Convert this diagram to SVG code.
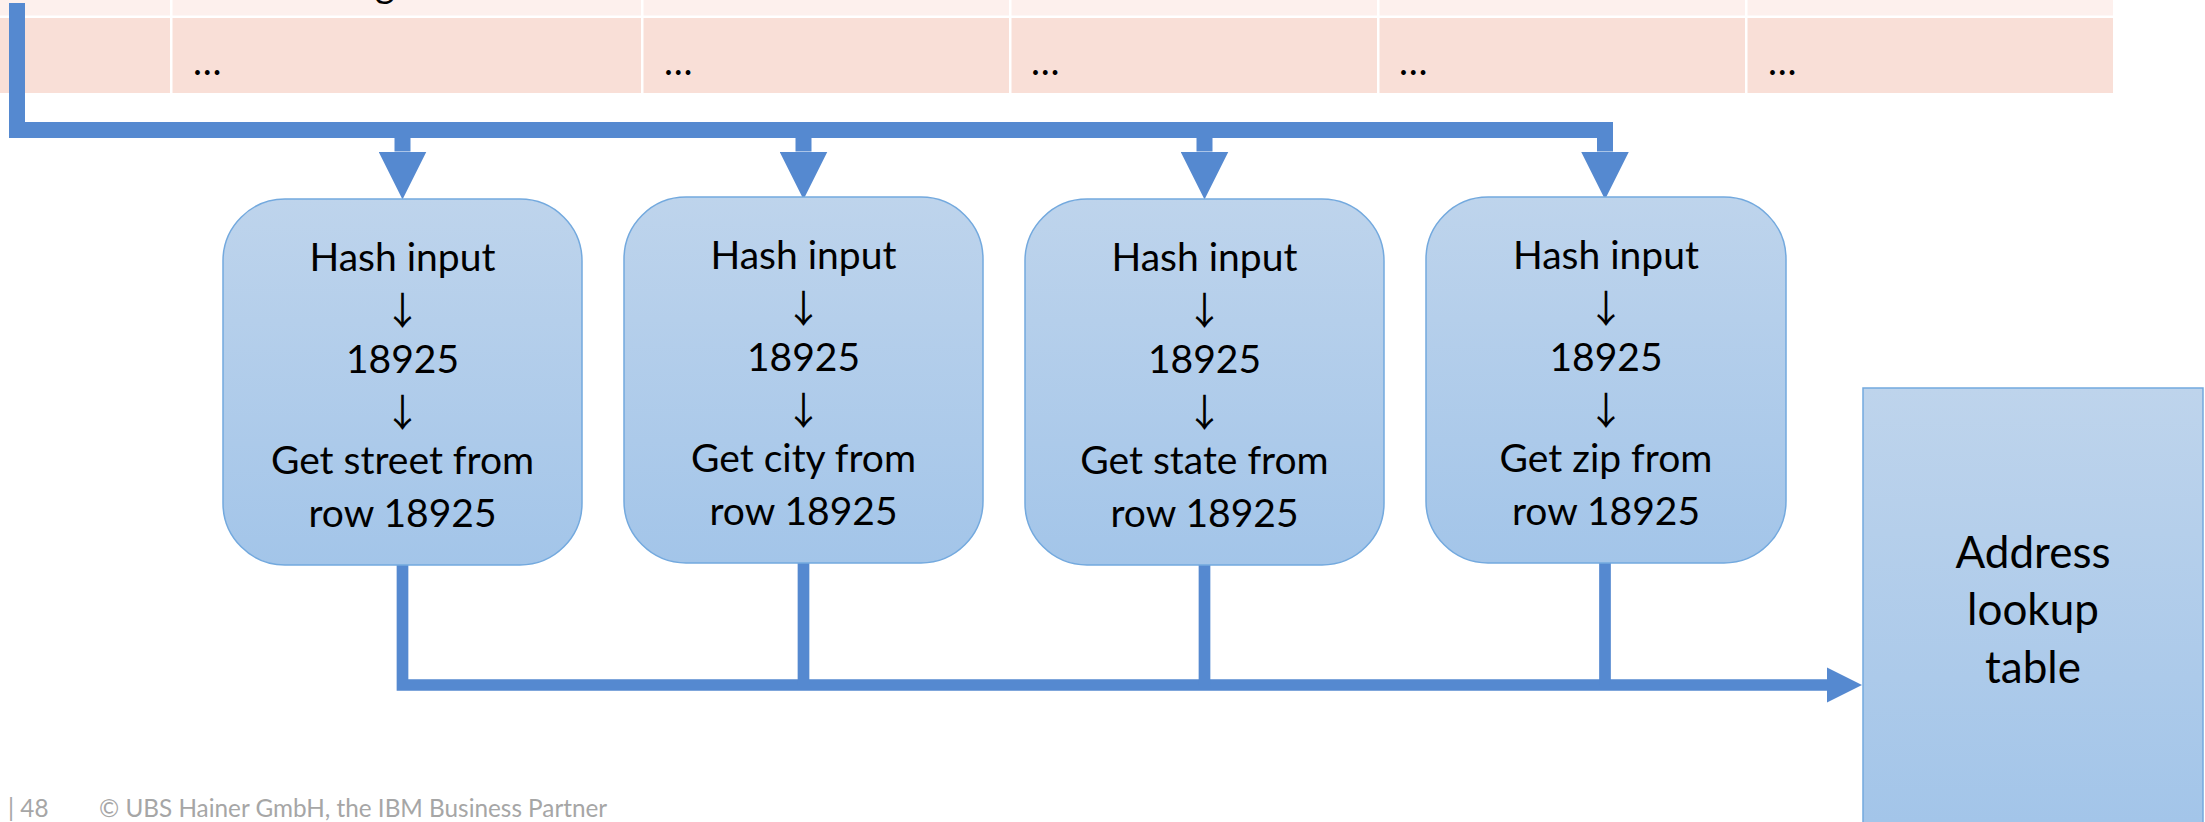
<svg xmlns="http://www.w3.org/2000/svg" width="2205" height="822" viewBox="0 0 2205 822">
<style>
.row1{fill:#fdf0ed}
.row2{fill:#f9dfd7}
.sep{fill:#ffffff}
.t{font-family:Lato,"DejaVu Sans",sans-serif;font-size:39px;fill:#000;text-anchor:middle}
.ar{font-family:"Noto Sans CJK JP","DejaVu Sans",sans-serif;font-size:38px;fill:#000;text-anchor:middle}
.ell{font-family:Lato,"DejaVu Sans",sans-serif;font-size:38px;fill:#000}
.box{fill:url(#gbox);stroke:#73a9de;stroke-width:1.5}
.abox{fill:url(#gaddr);stroke:#73a9de;stroke-width:1.5}
.bus{fill:none;stroke:#5589d0;stroke-linejoin:miter;stroke-linecap:butt}
.top{stroke-width:16}
.bot{stroke-width:11.7}
.foot{font-family:Lato,"DejaVu Sans",sans-serif;font-size:24.3px;fill:#a6a6a6}
</style>
<defs>
<linearGradient id="gbox" x1="0" y1="0" x2="0" y2="1">
<stop offset="0" stop-color="#bed4ec"/>
<stop offset="1" stop-color="#a3c5e9"/>
</linearGradient>
<linearGradient id="gaddr" gradientUnits="userSpaceOnUse" x1="0" y1="388" x2="0" y2="822">
<stop offset="0" stop-color="#bed4ec"/>
<stop offset="1" stop-color="#a3c5e9"/>
</linearGradient>
<marker id="ah" viewBox="0 0 10 10" refX="0" refY="5" markerWidth="3" markerHeight="3" orient="auto" markerUnits="strokeWidth">
<path d="M0,0 L10,5 L0,10 z" fill="#5589d0"/>
</marker>
</defs>

<g id="table">
<rect class="row1" x="0" y="0" width="2113" height="15.5"/>
<rect class="row2" x="0" y="18" width="2113" height="75"/>
<rect class="sep" x="170" y="0" width="2.5" height="93"/>
<rect class="sep" x="641" y="0" width="2.5" height="93"/>
<rect class="sep" x="1009" y="0" width="2.5" height="93"/>
<rect class="sep" x="1377" y="0" width="2.5" height="93"/>
<rect class="sep" x="1745" y="0" width="2.5" height="93"/>
<text class="ell" x="375" y="-3">g</text>
<text class="ell" x="193" y="75">…</text>
<text class="ell" x="664" y="75">…</text>
<text class="ell" x="1031" y="75">…</text>
<text class="ell" x="1399" y="75">…</text>
<text class="ell" x="1768" y="75">…</text>
</g>

<g id="connectors">
<path class="bus top" d="M17,3 V130 H1605 V151.5" marker-end="url(#ah)"/>
<path class="bus top" d="M402.5,130 V151.5" marker-end="url(#ah)"/>
<path class="bus top" d="M803.5,130 V151.5" marker-end="url(#ah)"/>
<path class="bus top" d="M1204.5,130 V151.5" marker-end="url(#ah)"/>
<path class="bus bot" d="M402.5,565 V685 H1827" marker-end="url(#ah)"/>
<path class="bus bot" d="M803.5,563 V685"/>
<path class="bus bot" d="M1204.5,565 V685"/>
<path class="bus bot" d="M1605,563 V685"/>
</g>

<g id="node-street">
<rect class="box" x="223" y="199" width="359" height="366" rx="62" ry="62"/>
<text class="t" x="402.5" y="271">Hash input</text>
<text class="ar" x="402.5" y="324">↓</text>
<text class="t" x="402.5" y="373">18925</text>
<text class="ar" x="402.5" y="426">↓</text>
<text class="t" x="402.5" y="474">Get street from</text>
<text class="t" x="402.5" y="527">row 18925</text>
</g>

<g id="node-city">
<rect class="box" x="624" y="197" width="359" height="366" rx="62" ry="62"/>
<text class="t" x="803.5" y="269">Hash input</text>
<text class="ar" x="803.5" y="322">↓</text>
<text class="t" x="803.5" y="371">18925</text>
<text class="ar" x="803.5" y="424">↓</text>
<text class="t" x="803.5" y="472">Get city from</text>
<text class="t" x="803.5" y="525">row 18925</text>
</g>

<g id="node-state">
<rect class="box" x="1025" y="199" width="359" height="366" rx="62" ry="62"/>
<text class="t" x="1204.5" y="271">Hash input</text>
<text class="ar" x="1204.5" y="324">↓</text>
<text class="t" x="1204.5" y="373">18925</text>
<text class="ar" x="1204.5" y="426">↓</text>
<text class="t" x="1204.5" y="474">Get state from</text>
<text class="t" x="1204.5" y="527">row 18925</text>
</g>

<g id="node-zip">
<rect class="box" x="1426" y="197" width="360" height="366" rx="62" ry="62"/>
<text class="t" x="1606" y="269">Hash input</text>
<text class="ar" x="1606" y="322">↓</text>
<text class="t" x="1606" y="371">18925</text>
<text class="ar" x="1606" y="424">↓</text>
<text class="t" x="1606" y="472">Get zip from</text>
<text class="t" x="1606" y="525">row 18925</text>
</g>

<g id="node-address">
<rect class="abox" x="1863" y="388" width="340" height="450"/>
<text class="t" x="2033" y="568" style="font-size:44px">Address</text>
<text class="t" x="2033" y="625" style="font-size:44px">lookup</text>
<text class="t" x="2033" y="683" style="font-size:44px">table</text>
</g>

<g id="footer">
<text class="foot" x="8" y="817">| 48</text>
<text class="foot" x="99" y="817">© UBS Hainer GmbH, the IBM Business Partner</text>
</g>
</svg>
